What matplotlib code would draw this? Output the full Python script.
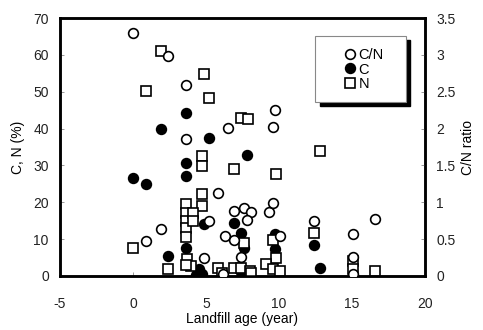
import matplotlib
matplotlib.use("Agg")
import matplotlib.pyplot as plt
from matplotlib.patches import Rectangle
from matplotlib.lines import Line2D

plt.rcParams['font.family'] = ['Liberation Sans', 'DejaVu Sans']
plt.rcParams['axes.unicode_minus'] = False

# C/N ratio (right axis)
cn_age = [0.0, 2.4, 3.6, 3.6, 6.5, 9.7, 9.6, 5.8, 1.9, 0.9, 5.2, 6.9, 7.6, 8.1,
          7.8, 9.3, 9.6, 6.3, 6.9, 7.4, 4.9, 10.1, 12.4, 15.1, 15.1, 16.6, 15.1, 6.2]
cn_ratio = [3.30, 2.98, 2.59, 1.86, 2.01, 2.25, 2.02, 1.13, 0.64, 0.48, 0.75, 0.88, 0.92, 0.87,
            0.76, 0.87, 0.99, 0.54, 0.49, 0.26, 0.24, 0.54, 0.75, 0.57, 0.25, 0.77, 0.02, 0.02]

# C (%) (left axis)
c_age = [0.0, 0.9, 1.9, 3.6, 5.2, 7.8, 3.6, 3.6, 4.9, 6.9, 7.4, 9.7, 3.6, 2.4,
         7.6, 9.7, 12.4, 12.8, 4.5, 4.7, 4.3, 7.4]
c_pct = [26.5, 25.0, 39.8, 44.2, 37.4, 32.8, 30.6, 27.0, 14.0, 14.4, 11.7, 11.4, 7.6, 5.4,
         7.6, 7.3, 8.4, 2.2, 1.9, 0.5, 0.3, 1.0]

# N (%) (left axis)
n_age = [1.9, 4.9, 0.9, 5.2, 7.4, 7.9, 12.8, 4.7, 4.7, 6.9, 9.8, 4.7, 4.7, 3.6,
         3.6, 3.6, 3.6, 3.6, 4.1, 4.1, 0.0, 7.6, 9.6, 12.4, 9.8, 9.1, 2.4, 3.7,
         4.0, 5.8, 6.1, 6.9, 7.4, 8.0, 9.6, 10.1, 8.1, 15.1, 15.1, 16.6, 3.6]
n_pct = [61.2, 54.7, 50.1, 48.2, 42.8, 42.5, 34.0, 32.5, 29.8, 29.0, 27.6, 22.2, 19.0, 19.5,
         17.0, 15.0, 13.0, 10.5, 17.0, 15.0, 7.6, 8.9, 9.8, 11.7, 4.9, 3.3, 1.9, 4.5,
         2.7, 2.2, 0.8, 2.2, 2.2, 1.4, 1.9, 1.4, 0.8, 4.0, 1.8, 1.4, 3.0]

fig = plt.figure(figsize=(4.83, 3.3), dpi=100)
ax = fig.add_axes([0.124, 0.164, 0.756, 0.781])
ax2 = ax.twinx()

ms = 7
ax.plot(c_age, c_pct, 'o', ms=ms, mfc='black', mec='black', mew=1.2, zorder=3)
ax.plot(n_age, n_pct, 's', ms=ms, mfc='white', mec='black', mew=1.2, zorder=4)
ax2.plot(cn_age, cn_ratio, 'o', ms=ms, mfc='white', mec='black', mew=1.2, zorder=3)

ax.set_xlim(-5, 20)
ax.set_ylim(0, 70)
ax2.set_ylim(0, 3.5)
ax.set_xticks([-5, 0, 5, 10, 15, 20])
ax.set_yticks(range(0, 71, 10))
ax2.set_yticks([0, 0.5, 1, 1.5, 2, 2.5, 3, 3.5])
ax2.set_yticklabels(['0', '0.5', '1', '1.5', '2', '2.5', '3', '3.5'])

for a in (ax, ax2):
    a.tick_params(direction='in', length=3, width=0.6, color='#888888',
                  labelsize=10, labelcolor='#222222', pad=8)
    for s in a.spines.values():
        s.set_linewidth(1.8)
ax.tick_params(axis='x', pad=15)
ax2.patch.set_visible(False)

ax.set_xlabel('Landfill age (year)', fontsize=10, labelpad=1)
ax.set_ylabel('C, N (%)', fontsize=10, labelpad=6)
ax2.set_ylabel('C/N ratio', fontsize=10, labelpad=4)

# legend box with black shadow
ax.add_patch(Rectangle((0.712, 0.66), 0.248, 0.255, transform=ax.transAxes,
                       facecolor='black', edgecolor='black', zorder=9, clip_on=False))
ax.add_patch(Rectangle((0.700, 0.675), 0.248, 0.255, transform=ax.transAxes,
                       facecolor='white', edgecolor='#888888', lw=0.8, zorder=10, clip_on=False))
handles = [Line2D([], [], ls='', marker='o', ms=ms, mfc='white', mec='black', mew=1.2),
           Line2D([], [], ls='', marker='o', ms=ms, mfc='black', mec='black', mew=1.2),
           Line2D([], [], ls='', marker='s', ms=ms, mfc='white', mec='black', mew=1.2)]
leg = ax.legend(handles, ['C/N', 'C', 'N'], loc='upper left', bbox_to_anchor=(0.75, 0.93),
                frameon=False, fontsize=10.5, handlelength=0.6, handletextpad=0.3,
                labelspacing=0.05, borderpad=0.3)
leg.set_zorder(11)

fig.savefig('out.png', dpi=100)
